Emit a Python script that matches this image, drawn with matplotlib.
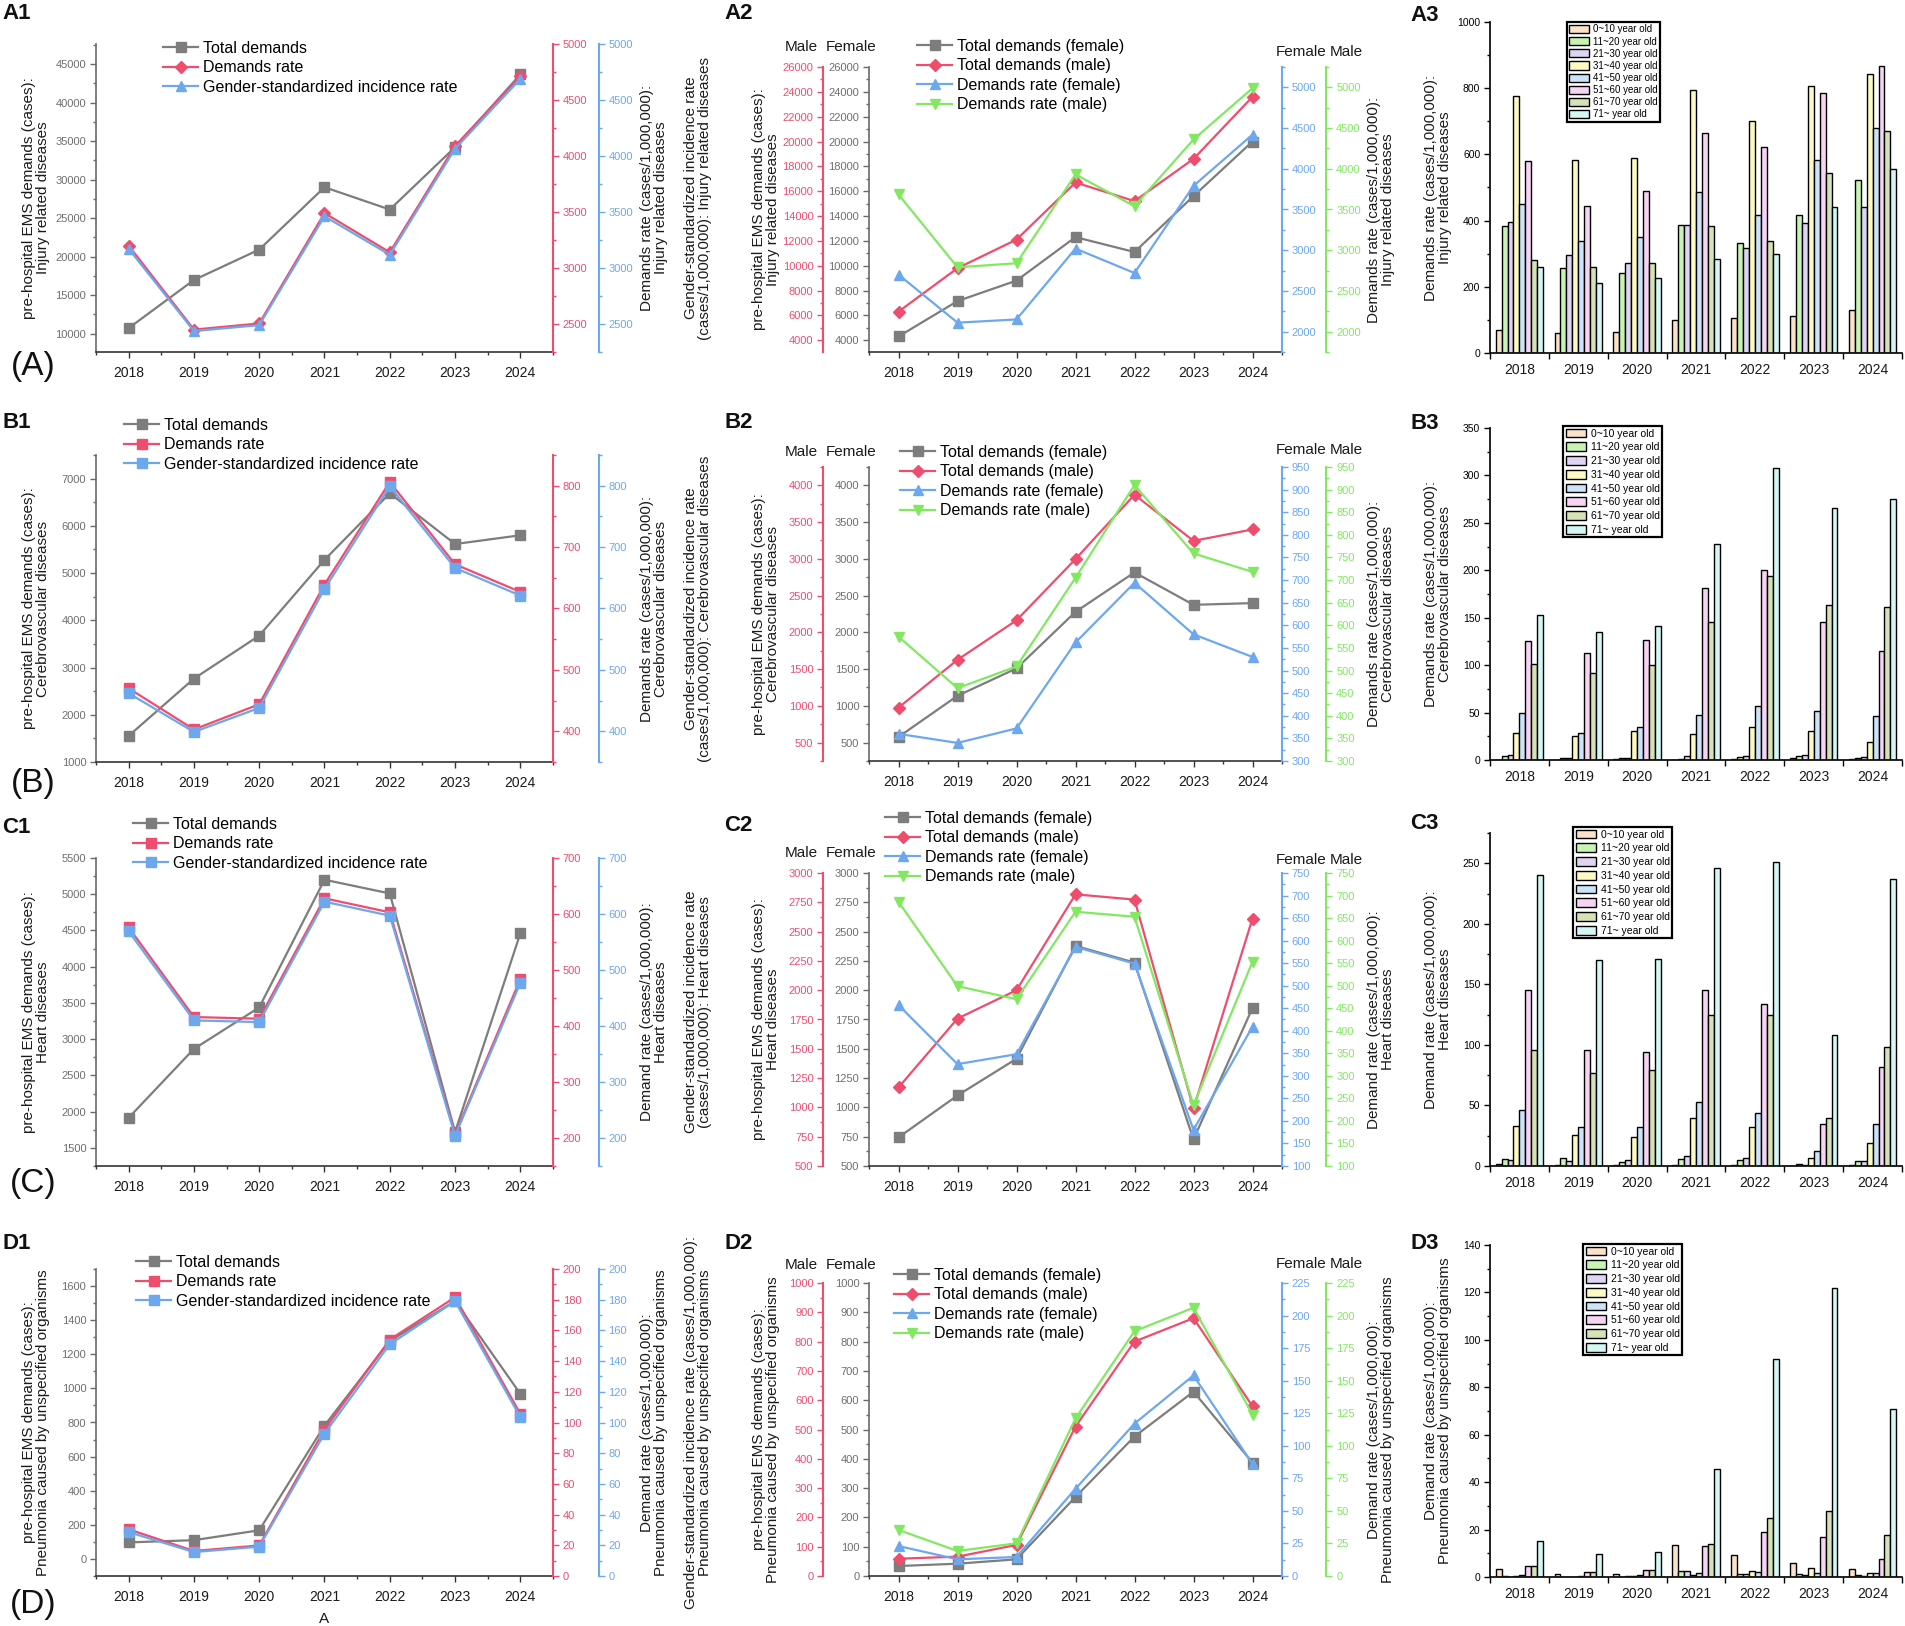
import numpy as np
import matplotlib
matplotlib.use('Agg')
import matplotlib.pyplot as plt
from matplotlib import font_manager
from matplotlib.ticker import MultipleLocator, FixedLocator, StrMethodFormatter
from matplotlib.patches import Patch

_names = {f.name for f in font_manager.fontManager.ttflist}
BASE = 'Liberation Sans' if 'Liberation Sans' in _names else 'DejaVu Sans'
NARROW = 'Liberation Sans Narrow' if 'Liberation Sans Narrow' in _names else BASE
plt.rcParams['font.family'] = BASE

# ---------------- data ----------------
years = [2018, 2019, 2020, 2021, 2022, 2023, 2024]
age_groups = ['0~10 year old', '11~20 year old', '21~30 year old', '31~40 year old',
              '41~50 year old', '51~60 year old', '61~70 year old', '71~ year old']

# Injury related diseases
inj_total = [10700, 16950, 20900, 29000, 26100, 34200, 43650]
inj_rate = [3200, 2450, 2505, 3490, 3140, 4090, 4710]
inj_std = [3172, 2437, 2490, 3462, 3118, 4065, 4688]
inj_f_total = [4300, 7150, 8800, 12300, 11100, 15600, 20000]
inj_m_total = [6300, 9800, 12100, 16700, 15200, 18600, 23600]
inj_f_rate = [2700, 2110, 2150, 3020, 2720, 3790, 4420]
inj_m_rate = [3685, 2790, 2840, 3930, 3540, 4360, 4990]
inj_age = [
    [68, 385, 395, 775, 450, 580, 280, 260],
    [60, 258, 295, 582, 338, 445, 260, 212],
    [62, 242, 272, 588, 350, 490, 272, 226],
    [100, 388, 388, 795, 486, 665, 385, 285],
    [105, 332, 318, 702, 416, 622, 338, 300],
    [112, 418, 392, 808, 582, 785, 545, 440],
    [130, 522, 440, 842, 680, 868, 672, 556],
]

# Cerebrovascular diseases
cer_total = [1553, 2765, 3675, 5280, 6690, 5615, 5800]
cer_rate = [470, 403, 444, 639, 806, 672, 627]
cer_std = [462, 399, 438, 632, 799, 666, 621]
cer_f_total = [577, 1137, 1510, 2279, 2816, 2375, 2398]
cer_m_total = [976, 1627, 2164, 2997, 3873, 3245, 3400]
cer_f_rate = [360, 340, 372, 562, 694, 580, 530]
cer_m_rate = [575, 461, 509, 705, 910, 759, 718]
cer_age = [
    [0.5, 4, 5, 28, 50, 125, 101, 153],
    [0.3, 2.5, 2.5, 25, 28, 113, 92, 135],
    [1, 2, 2, 31, 35, 127, 100, 141],
    [0.3, 1, 4, 27, 47, 181, 145, 228],
    [1, 3, 4, 35, 57, 200, 194, 308],
    [2, 4, 5, 31, 52, 145, 163, 266],
    [1, 2, 3, 19, 46, 115, 161, 275],
]

# Heart diseases
hrt_total = [1915, 2866, 3438, 5200, 5011, 1718, 4462]
hrt_rate = [576, 416, 413, 628, 603, 207, 484]
hrt_std = [569, 410, 407, 622, 597, 204, 477]
hrt_f_total = [744, 1102, 1415, 2378, 2236, 727, 1849]
hrt_m_total = [1170, 1758, 2000, 2818, 2773, 991, 2611]
hrt_f_rate = [457, 326, 348, 586, 549, 180, 409]
hrt_m_rate = [686, 499, 470, 664, 653, 235, 553]
hrt_age = [
    [2, 6, 5, 33, 46, 145, 96, 240],
    [1, 7, 4, 26, 32, 96, 77, 170],
    [0.5, 3, 5, 24, 32, 94, 79, 171],
    [1, 6, 8, 40, 53, 145, 125, 246],
    [0.5, 5, 7, 32, 44, 134, 125, 251],
    [0.3, 1.5, 1, 7, 12, 35, 40, 108],
    [1, 4, 4, 19, 35, 82, 98, 237],
]

# Pneumonia caused by unspecified organisms
pnu_total = [97, 110, 168, 782, 1278, 1512, 968]
pnu_rate = [30.4, 16.3, 19.9, 95.4, 154, 181.6, 105.6]
pnu_std = [28.6, 15.6, 19.1, 92.8, 151, 179, 103.5]
pnu_f_total = [34, 42, 57, 270, 476, 629, 387]
pnu_m_total = [59, 66, 106, 510, 800, 880, 579]
pnu_f_rate = [23, 12.8, 14.6, 67, 117, 154, 86]
pnu_m_rate = [35.4, 19.2, 25.1, 121, 188, 206, 124]
pnu_age = [
    [3.5, 0.4, 0.1, 0.3, 0.8, 4.5, 4.5, 15],
    [1.2, 0.1, 0.1, 0.2, 0.3, 2.3, 2.0, 9.7],
    [1.2, 0.1, 0.4, 0.6, 0.8, 3.0, 3.0, 10.5],
    [13.5, 2.5, 2.5, 0.8, 1.7, 13.2, 14, 45.7],
    [9.3, 1.2, 1.2, 2.5, 2.0, 19, 25, 92],
    [5.8, 1.2, 0.8, 3.7, 1.5, 17, 28, 122],
    [3.2, 1.0, 0.6, 1.5, 1.8, 7.5, 17.8, 71],
]

# ---------------- style ----------------
W, H = 1905, 1626
fig = plt.figure(figsize=(W / 100, H / 100), dpi=100)

GRAY_LN = '#7d7d7d'
GRAY_AX = '#6a6a6a'
GRAY_TXT = '#6e6e6e'
RED = '#EE4D6D'
BLUE = '#6DA7EE'
GREEN = '#82E862'
BAR_COLORS = ['#FBE1CA', '#C8F4B2', '#DFD4F4', '#FCFAC2', '#CCE4F9', '#F7D4F4', '#D4E2B4', '#D4F6F4']
LABEL_FS = 11
LEG_FS = 12.5 if NARROW != BASE else 11.5


def add_axes(x0, y0, x1, y1):
    return fig.add_axes([x0 / W, 1 - y1 / H, (x1 - x0) / W, (y1 - y0) / H])


def ftext(x, y, s, **kw):
    fig.text(x / W, 1 - y / H, s, **kw)


def vlabel(x, y, s):
    ftext(x, y, s, rotation=90, ha='center', va='center', multialignment='center',
          fontsize=LABEL_FS, linespacing=1.05, color='#1a1a1a')


def set_y(ax, lim, maj, mnr, col, tcol):
    ax.set_ylim(*lim)
    ax.yaxis.set_major_locator(MultipleLocator(maj))
    ax.yaxis.set_minor_locator(MultipleLocator(mnr))
    ax.yaxis.set_major_formatter(StrMethodFormatter('{x:.0f}'))
    ax.tick_params(axis='y', which='major', length=4, width=1.0, color=col,
                   labelsize=8, labelcolor=tcol, pad=3)
    ax.tick_params(axis='y', which='minor', length=2.5, width=1.0, color=col)


def host_axes(x0, top, x1, bot, lim, maj, mnr):
    ax = add_axes(x0, top, x1, bot)
    ax.patch.set_visible(False)
    for s in ('top', 'right'):
        ax.spines[s].set_visible(False)
    ax.spines['left'].set_color(GRAY_AX)
    ax.spines['left'].set_linewidth(1.2)
    ax.spines['bottom'].set_color('#333333')
    ax.spines['bottom'].set_linewidth(1.2)
    ax.set_xlim(2017.5, 2024.5)
    ax.xaxis.set_major_locator(FixedLocator(years))
    ax.xaxis.set_minor_locator(MultipleLocator(0.5))
    ax.xaxis.set_major_formatter(StrMethodFormatter('{x:.0f}'))
    ax.tick_params(axis='x', which='major', length=4, width=1.0, color='#333333',
                   labelsize=10, labelcolor='#1a1a1a', pad=6)
    ax.tick_params(axis='x', which='minor', length=2.5, width=1.0, color='#333333')
    set_y(ax, lim, maj, mnr, GRAY_AX, GRAY_TXT)
    return ax


def twin_axis(ax, side, outward, lim, maj, mnr, col):
    t = ax.twinx()
    for s in t.spines.values():
        s.set_visible(False)
    t.spines[side].set_visible(True)
    t.spines[side].set_position(('outward', outward))
    t.spines[side].set_color(col)
    t.spines[side].set_linewidth(1.5)
    t.yaxis.set_ticks_position(side)
    t.yaxis.set_label_position(side)
    set_y(t, lim, maj, mnr, col, col)
    return t


def plot_line(ax, y, color, marker):
    return ax.plot(years, y, color=color, lw=1.6, marker=marker, ms=6.5,
                   mec=color, mfc=color, clip_on=False, zorder=3)[0]


def line_legend(handles, labels, x, y):
    fig.legend(handles, labels, loc='upper left', bbox_to_anchor=(x / W, 1 - y / H),
               frameon=False, prop={'family': NARROW, 'size': LEG_FS},
               handlelength=2.2, handletextpad=0.3, labelspacing=0.28,
               borderpad=0, borderaxespad=0)


def panel_col1(top, bot, total, rate, std, llim, lmaj, lmin, rlim, rmaj, rmin,
               mk_rate, mk_std, lab_left, lab_r1, lab_r2, leg_xy):
    ax = host_axes(96, top, 553, bot, llim, lmaj, lmin)
    r = twin_axis(ax, 'right', 0, rlim, rmaj, rmin, RED)
    b = twin_axis(ax, 'right', 33, rlim, rmaj, rmin, BLUE)
    h1 = plot_line(ax, total, GRAY_LN, 's')
    h2 = plot_line(r, rate, RED, mk_rate)
    h3 = plot_line(b, std, BLUE, mk_std)
    line_legend([h1, h2, h3], ['Total demands', 'Demands rate',
                               'Gender-standardized incidence rate'], *leg_xy)
    yc = (top + bot) / 2
    vlabel(36, yc, lab_left)
    vlabel(654, yc, lab_r1)
    vlabel(698, yc, lab_r2)


def panel_col2(top, bot, ftot, mtot, frate, mrate, llim, lmaj, lmin, rlim, rmaj, rmin,
               lab_left, lab_right, leg_xy, hdr_l, hdr_r):
    ax = host_axes(869, top, 1282, bot, llim, lmaj, lmin)
    red = twin_axis(ax, 'left', 33, llim, lmaj, lmin, RED)
    blue = twin_axis(ax, 'right', 0, rlim, rmaj, rmin, BLUE)
    green = twin_axis(ax, 'right', 32, rlim, rmaj, rmin, GREEN)
    h1 = plot_line(ax, ftot, GRAY_LN, 's')
    h2 = plot_line(red, mtot, RED, 'D')
    h3 = plot_line(blue, frate, BLUE, '^')
    h4 = plot_line(green, mrate, GREEN, 'v')
    line_legend([h1, h2, h3, h4], ['Total demands (female)', 'Total demands (male)',
                                   'Demands rate (female)', 'Demands rate (male)'], *leg_xy)
    yc = (top + bot) / 2
    vlabel(766, yc, lab_left)
    vlabel(1381, yc, lab_right)
    for x, y, s in [(801, hdr_l, 'Male'), (851, hdr_l, 'Female'),
                    (1301, hdr_r, 'Female'), (1346, hdr_r, 'Male')]:
        ftext(x, y, s, ha='center', va='center', fontsize=11, color='#1a1a1a')


def panel_col3(top, bot, table, ylim, maj, mnr, lab, leg_xy, leg_fs, leg_sp):
    ax = add_axes(1490, top, 1902, bot)
    x = np.arange(len(years))
    w = 0.101
    vals = np.array(table, dtype=float)
    for i, c in enumerate(BAR_COLORS):
        ax.bar(x + (i - 3.5) * w, vals[:, i], width=w, color=c,
               edgecolor='black', linewidth=1.0)
    ax.set_xlim(-0.5, len(years) - 0.5)
    ax.set_ylim(*ylim)
    ax.xaxis.set_major_locator(FixedLocator(x))
    ax.set_xticklabels([str(y) for y in years])
    ax.xaxis.set_minor_locator(FixedLocator(np.arange(len(years) + 1) - 0.5))
    ax.tick_params(axis='x', which='major', length=0, labelsize=10, pad=7, labelcolor='#1a1a1a')
    ax.tick_params(axis='x', which='minor', length=4, width=1.0)
    ax.yaxis.set_major_locator(MultipleLocator(maj))
    ax.yaxis.set_minor_locator(MultipleLocator(mnr))
    ax.yaxis.set_major_formatter(StrMethodFormatter('{x:.0f}'))
    ax.tick_params(axis='y', which='major', length=4, width=1.0, labelsize=7.5, pad=3)
    ax.tick_params(axis='y', which='minor', length=2.5, width=1.0)
    for s in ('top', 'right'):
        ax.spines[s].set_visible(False)
    for s in ('left', 'bottom'):
        ax.spines[s].set_linewidth(1.3)
        ax.spines[s].set_color('#111111')
    handles = [Patch(facecolor=c, edgecolor='black', linewidth=1.0) for c in BAR_COLORS]
    leg = fig.legend(handles, age_groups, loc='upper left',
                     bbox_to_anchor=(leg_xy[0] / W, 1 - leg_xy[1] / H),
                     frameon=True, fancybox=False, edgecolor='black', framealpha=1,
                     prop={'size': leg_fs}, handlelength=2.0, handleheight=0.9,
                     labelspacing=leg_sp, borderpad=0.25, handletextpad=0.4, borderaxespad=0)
    leg.get_frame().set_linewidth(1.6)
    vlabel(1438, (top + bot) / 2, lab)


# ---------------- row A ----------------
panel_col1(44, 352, inj_total, inj_rate, inj_std, (7600, 47600), 5000, 2500,
           (2250, 5000), 500, 250, 'D', '^',
           'pre-hospital EMS demands (cases):\nInjury related diseases',
           'Demands rate (cases/1,000,000):\nInjury related diseases',
           'Gender-standardized incidence rate\n(cases/1,000,000): Injury related diseases',
           (163, 41))
panel_col2(67, 352, inj_f_total, inj_m_total, inj_f_rate, inj_m_rate,
           (3050, 26000), 2000, 1000, (1750, 5250), 500, 250,
           'pre-hospital EMS demands (cases):\nInjury related diseases',
           'Demands rate (cases/1,000,000):\nInjury related diseases',
           (917, 39), 47, 52)
panel_col3(22, 353, inj_age, (0, 1000), 200, 100,
           'Demands rate (cases/1,000,000):\nInjury related diseases', (1567, 22), 7, 0.22)

# ---------------- row B ----------------
panel_col1(455, 762, cer_total, cer_rate, cer_std, (1000, 7500), 1000, 500,
           (350, 850), 100, 50, 's', 's',
           'pre-hospital EMS demands (cases):\nCerebrovascular diseases',
           'Demands rate (cases/1,000,000):\nCerebrovascular diseases',
           'Gender-standardized incidence rate\n(cases/1,000,000): Cerebrovascular diseases',
           (124, 418))
panel_col2(467, 761, cer_f_total, cer_m_total, cer_f_rate, cer_m_rate,
           (250, 4250), 500, 250, (300, 950), 50, 25,
           'pre-hospital EMS demands (cases):\nCerebrovascular diseases',
           'Demands rate (cases/1,000,000):\nCerebrovascular diseases',
           (900, 445), 452, 450)
panel_col3(428, 760, cer_age, (0, 350), 50, 25,
           'Demands rate (cases/1,000,000):\nCerebrovascular diseases', (1563, 426), 7.5, 0.36)

# ---------------- row C ----------------
panel_col1(858, 1166, hrt_total, hrt_rate, hrt_std, (1250, 5500), 500, 250,
           (150, 700), 100, 50, 's', 's',
           'pre-hospital EMS demands (cases):\nHeart diseases',
           'Demand rate (cases/1,000,000):\nHeart diseases',
           'Gender-standardized incidence rate\n(cases/1,000,000): Heart diseases',
           (133, 817))
panel_col2(873, 1166, hrt_f_total, hrt_m_total, hrt_f_rate, hrt_m_rate,
           (500, 3000), 250, 125, (100, 750), 50, 25,
           'pre-hospital EMS demands (cases):\nHeart diseases',
           'Demand rate (cases/1,000,000):\nHeart diseases',
           (885, 811), 853, 860)
panel_col3(833, 1166, hrt_age, (0, 275), 50, 25,
           'Demand rate (cases/1,000,000):\nHeart diseases', (1573, 827), 7.5, 0.36)

# ---------------- row D ----------------
panel_col1(1269, 1576, pnu_total, pnu_rate, pnu_std, (-100, 1700), 200, 100,
           (0, 200), 20, 10, 's', 's',
           'pre-hospital EMS demands (cases):\nPneumonia caused by unspecified organisms',
           'Demand rate (cases/1,000,000):\nPneumonia caused by unspecified organisms',
           'Gender-standardized incidence rate (cases/1,000,000):\nPneumonia caused by unspecified organisms',
           (136, 1255))
panel_col2(1283, 1576, pnu_f_total, pnu_m_total, pnu_f_rate, pnu_m_rate,
           (0, 1000), 100, 50, (0, 225), 25, 12.5,
           'pre-hospital EMS demands (cases):\nPneumonia caused by unspecified organisms',
           'Demand rate (cases/1,000,000):\nPneumonia caused by unspecified organisms',
           (894, 1268), 1265, 1264)
panel_col3(1245, 1577, pnu_age, (0, 140), 20, 10,
           'Demand rate (cases/1,000,000):\nPneumonia caused by unspecified organisms',
           (1583, 1244), 7.5, 0.36)

# ---------------- panel letters ----------------
for x, y, s in [(2, 3, 'A1'), (724, 3, 'A2'), (1410, 5, 'A3'),
                (2, 412, 'B1'), (724, 412, 'B2'), (1410, 413, 'B3'),
                (2, 817, 'C1'), (724, 815, 'C2'), (1410, 813, 'C3'),
                (2, 1233, 'D1'), (724, 1233, 'D2'), (1410, 1233, 'D3')]:
    ftext(x, y, s, ha='left', va='top', fontsize=16, fontweight='bold', color='#111111')

for y, s in [(367, '(A)'), (783, '(B)'), (1183, '(C)'), (1604, '(D)')]:
    ftext(33, y, s, ha='center', va='center', fontsize=24, color='#111111')

ftext(324, 1619, 'A', ha='center', va='center', fontsize=11, color='#1a1a1a')

fig.savefig('out.png', dpi=100)
